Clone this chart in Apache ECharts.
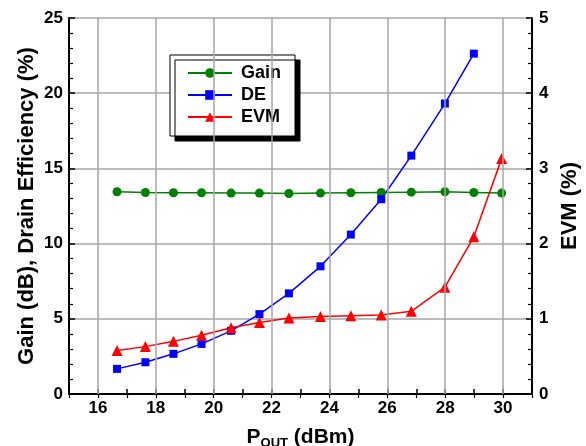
<!DOCTYPE html>
<html><head><meta charset="utf-8">
<script src="https://cdn.jsdelivr.net/npm/echarts@6/dist/echarts.min.js"></script>
<style>html,body{margin:0;padding:0;background:#fff}#c{width:586px;height:446px}</style>
</head><body><div id="c"></div>
<script>
const pout = [16.66, 17.64, 18.61, 19.58, 20.60, 21.58, 22.60, 23.69, 24.74, 25.79, 26.83, 27.99, 28.99, 29.95];
const gain = [13.45, 13.40, 13.38, 13.38, 13.36, 13.36, 13.33, 13.36, 13.38, 13.40, 13.42, 13.45, 13.40, 13.36];
const de = [1.67, 2.11, 2.67, 3.33, 4.20, 5.31, 6.69, 8.49, 10.60, 12.95, 15.85, 19.31, 22.63];
const evm = [0.58, 0.63, 0.70, 0.78, 0.88, 0.95, 1.01, 1.03, 1.04, 1.05, 1.10, 1.42, 2.09, 3.13];
const xGridTicks = [16, 18, 20, 22, 24, 26, 28, 30];

const FONT = '"Liberation Sans", Arial, sans-serif';
const pairs = (xs, ys) => ys.map((v, i) => [xs[i], v]);

const chart = echarts.init(document.getElementById('c'), null, {renderer: 'canvas'});
const gridColor = '#a6a6a6';
chart.setOption({
  animation: false,
  backgroundColor: '#fff',
  textStyle: {fontFamily: FONT},
  grid: {left: 69, right: 54, top: 18, bottom: 52, containLabel: false, outerBoundsMode: 'none'},
  legend: {
    orient: 'vertical', left: 170, top: 55,
    padding: [9, 14, 10, 17], itemGap: 4, itemWidth: 44, itemHeight: 12,
    backgroundColor: '#fff', borderColor: '#000', borderWidth: 1,
    shadowColor: '#000', shadowOffsetX: 5, shadowOffsetY: 5, shadowBlur: 0,
    textStyle: {fontFamily: FONT, fontSize: 18, fontWeight: 'bold', color: '#000', padding: [0, 0, 0, 4]},
    data: ['Gain', 'DE', 'EVM']
  },
  xAxis: [{
    type: 'value', position: 'bottom', min: 15, max: 31, interval: 1,
    axisLine: {show: true, lineStyle: {color: '#000', width: 2}},
    axisTick: {show: true, inside: true, length: 5, lineStyle: {color: '#000', width: 1.5}},
    splitLine: {show: false},
    axisLabel: {
      fontFamily: FONT, fontSize: 17, fontWeight: 'bold', color: '#000', margin: 6,
      formatter: v => (v % 2 === 0 ? String(v) : '')
    },
    name: 'P{sub|OUT} (dBm)', nameLocation: 'middle', nameGap: 31,
    nameTextStyle: {
      fontFamily: FONT, fontSize: 21, fontWeight: 'bold', color: '#000',
      rich: {sub: {fontFamily: FONT, fontSize: 13, fontWeight: 'bold', color: '#000', verticalAlign: 'bottom', padding: [12, 0, 0, 0]}}
    }
  }, {
    type: 'value', position: 'top', min: 15, max: 31, interval: 1,
    axisLine: {show: true, lineStyle: {color: '#000', width: 2}},
    axisTick: {show: true, inside: true, length: 4, lineStyle: {color: '#000', width: 1.2}},
    axisLabel: {show: false}, splitLine: {show: false}
  }],
  yAxis: [{
    type: 'value', position: 'left', min: 0, max: 25, interval: 5,
    axisLine: {show: true, lineStyle: {color: '#000', width: 2}},
    axisTick: {show: true, inside: true, length: 6, lineStyle: {color: '#000', width: 1.5}},
    minorTick: {show: true, splitNumber: 5, length: 4, lineStyle: {color: '#000', width: 1.2}},
    splitLine: {show: true, lineStyle: {color: gridColor, width: 1.5}},
    axisLabel: {fontFamily: FONT, fontSize: 17, fontWeight: 'bold', color: '#000', margin: 6},
    name: 'Gain (dB), Drain Efficiency (%)', nameLocation: 'middle', nameGap: 31, nameRotate: 90,
    nameMoveOverlap: false,
    nameTextStyle: {fontFamily: FONT, fontSize: 22, fontWeight: 'bold', color: '#000'}
  }, {
    type: 'value', position: 'right', min: 0, max: 5, interval: 1,
    axisLine: {show: true, lineStyle: {color: '#000', width: 2}},
    axisTick: {show: true, inside: true, length: 6, lineStyle: {color: '#000', width: 1.5}},
    minorTick: {show: true, splitNumber: 5, length: 4, lineStyle: {color: '#000', width: 1.2}},
    splitLine: {show: false},
    axisLabel: {fontFamily: FONT, fontSize: 17, fontWeight: 'bold', color: '#000', margin: 7},
    name: 'EVM (%)', nameLocation: 'middle', nameGap: 27, nameRotate: 90,
    nameMoveOverlap: false,
    nameTextStyle: {fontFamily: FONT, fontSize: 22, fontWeight: 'bold', color: '#000'}
  }],
  series: [{
    name: 'Gain', type: 'line', xAxisIndex: 0, yAxisIndex: 0,
    data: pairs(pout, gain), symbol: 'circle', symbolSize: 9,
    itemStyle: {color: '#008000'}, lineStyle: {color: '#008000', width: 1.5}, z: 3,
    markLine: {
      silent: true, symbol: 'none', label: {show: false}, animation: false,
      lineStyle: {color: gridColor, width: 1.5, type: 'solid'},
      data: xGridTicks.map(v => ({xAxis: v}))
    }
  }, {
    name: 'DE', type: 'line', xAxisIndex: 0, yAxisIndex: 0,
    data: pairs(pout, de), symbol: 'rect', symbolSize: 8,
    itemStyle: {color: '#0000ff'}, lineStyle: {color: '#0000ff', width: 1.5}, z: 3
  }, {
    name: 'EVM', type: 'line', xAxisIndex: 0, yAxisIndex: 1,
    data: pairs(pout, evm), symbol: 'triangle', symbolSize: 11,
    itemStyle: {color: '#ff0000'}, lineStyle: {color: '#ff0000', width: 1.5}, z: 3
  }]
});
</script></body></html>
